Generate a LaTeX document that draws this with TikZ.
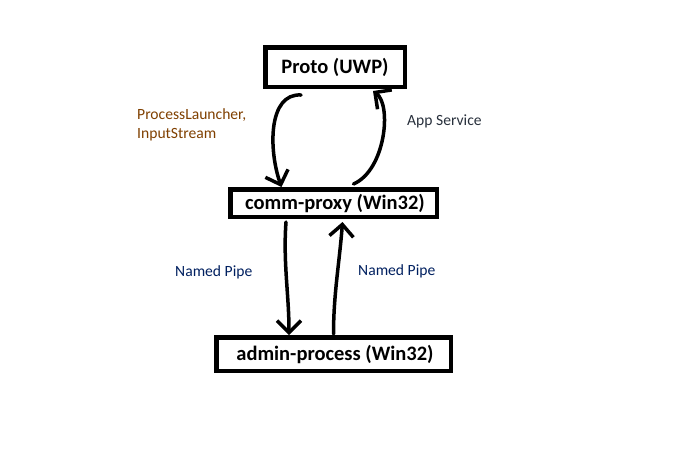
\documentclass[tikz,border=0pt]{standalone}
\usepackage{fontspec}
\setmainfont{Carlito}
\usetikzlibrary{arrows.meta,calc}
\definecolor{launchbrown}{RGB}{128,64,0}
\definecolor{serviceslate}{RGB}{40,48,60}
\definecolor{pipenavy}{RGB}{0,32,96}
\tikzset{
  procbox/.style={draw,line width=4.5pt,inner sep=0pt,font=\fontsize{20.5}{24}\selectfont\bfseries},
  sketcharrow/.style={line width=3.5pt,line cap=round,-{Straight Barb[length=12pt,width=24pt,line width=3.5pt]}},
  linklabel/.style={anchor=west,align=left,inner sep=0pt,font=\fontsize{15.6}{19}\selectfont}
}

\begin{document}
\begin{tikzpicture}[x=1pt,y=-1pt]
  \useasboundingbox (0,0) rectangle (684,453);
  \fill[white] (0,0) rectangle (684,453);

  % the three processes
  \node[procbox,minimum width=139.5pt,minimum height=39.5pt] (proto) at (335,67) {Proto (UWP)};
  \node[procbox,minimum width=206.5pt,minimum height=27.5pt] (comm) at (333.5,203) {\hspace*{3pt}comm-proxy (Win32)};
  \node[procbox,minimum width=234.5pt,minimum height=33.5pt] (admin) at (333.5,354) {\hspace*{3pt}admin-process (Win32)};

  % links
  \draw[sketcharrow] ([shift={(-34,6)}]proto.south) .. controls +(-33,-2) and +(-13,-37) .. ([xshift=-52pt]comm.north);
  \draw[sketcharrow] ([shift={(20,-3)}]comm.north) .. controls +(32,-14) and +(19,14) .. ([shift={(38,2)}]proto.south);
  \draw[sketcharrow] ([shift={(-47.5,3)}]comm.south) .. controls +(-3,40) and +(0,-40) .. ([xshift=-44.5pt]admin.north);
  \draw[sketcharrow] ([shift={(0,-1)}]admin.north) .. controls +(0,-40) and +(-3,40) .. ([shift={(9,3)}]comm.south);

  % labels
  \node[linklabel,text=launchbrown,anchor=north west] (launchlbl) at (137,108) {ProcessLauncher,\\InputStream};
  \node[linklabel,text=serviceslate] (servicelbl) at (407,121) {App Service};
  \node[linklabel,text=pipenavy] (pipedown) at (175,272) {Named Pipe};
  \node[linklabel,text=pipenavy] (pipeup) at (358,271) {Named Pipe};
\end{tikzpicture}
\end{document}
